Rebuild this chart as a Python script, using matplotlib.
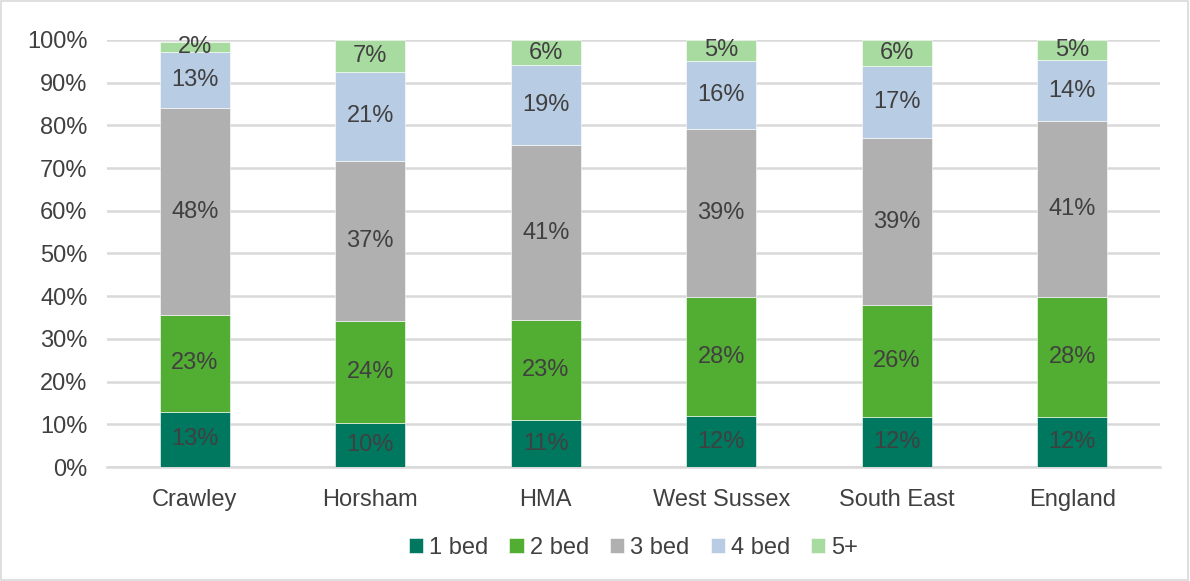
import numpy as np
import matplotlib.pyplot as plt
from matplotlib.patches import Rectangle

plt.rcParams['font.family'] = ['Liberation Sans', 'DejaVu Sans']

# Данные (доли, %)
areas = ['Crawley', 'Horsham', 'HMA', 'West Sussex', 'South East', 'England']
series = ['1 bed', '2 bed', '3 bed', '4 bed', '5+']
bed1 = [12.9, 10.3, 11.0, 11.9, 11.7, 11.7]
bed2 = [22.7, 23.9, 23.4, 27.9, 26.2, 28.1]
bed3 = [48.4, 37.4, 41.0, 39.4, 39.1, 41.2]
bed4 = [13.2, 21.0, 18.7, 15.9, 16.9, 14.3]
bed5 = [2.4, 7.4, 5.9, 4.9, 6.1, 4.7]
yticks = [0, 10, 20, 30, 40, 50, 60, 70, 80, 90, 100]

colors = ['#00775F', '#52AE32', '#B0B0B0', '#B8CCE4', '#A8DBA0']
text_col = '#404040'
fs = 17

fig = plt.figure(figsize=(11.9, 5.81), dpi=100)
ax = fig.add_axes([107 / 1190, 1 - 467 / 581, (1160 - 107) / 1190, (467 - 40) / 581])

x = np.arange(len(areas))
bottom = np.zeros(len(areas))
for name, vals, col in zip(series, [bed1, bed2, bed3, bed4, bed5], colors):
    vals = np.array(vals)
    ax.bar(x, vals, 0.4, bottom=bottom, color=col, label=name, zorder=3,
           edgecolor='white', linewidth=0.4)
    for xi, b, v in zip(x, bottom, vals):
        ax.text(xi, b + v / 2, f'{v:.0f}%', ha='center', va='center',
                fontsize=fs, color=text_col, zorder=4)
    bottom += vals

ax.set_xlim(-0.5, len(areas) - 0.5)
ax.set_ylim(0, 100)
ax.set_yticks(yticks)
ax.set_yticklabels([f'{t}%' for t in yticks])
ax.set_xticks(x)
ax.set_xticklabels(areas)
ax.tick_params(axis='both', length=0, labelsize=fs, labelcolor=text_col)
ax.tick_params(axis='y', pad=14)
ax.tick_params(axis='x', pad=16)
ax.grid(axis='y', color='#D9D9D9', linewidth=1.8, zorder=0)
for s in ['top', 'left', 'right']:
    ax.spines[s].set_visible(False)
ax.spines['bottom'].set_color('#D9D9D9')
ax.spines['bottom'].set_linewidth(1.8)

ax.legend(loc='center', bbox_to_anchor=(0.5, -0.19), ncol=5, frameon=False,
          fontsize=fs, labelcolor=text_col, handlelength=0.6, handleheight=0.6,
          handletextpad=0.25, columnspacing=0.9)

fig.patches.append(Rectangle((0.001, 0.002), 0.997, 0.996, transform=fig.transFigure,
                             fill=False, edgecolor='#D9D9D9', linewidth=1.2))

fig.savefig('out.png', dpi=100)
